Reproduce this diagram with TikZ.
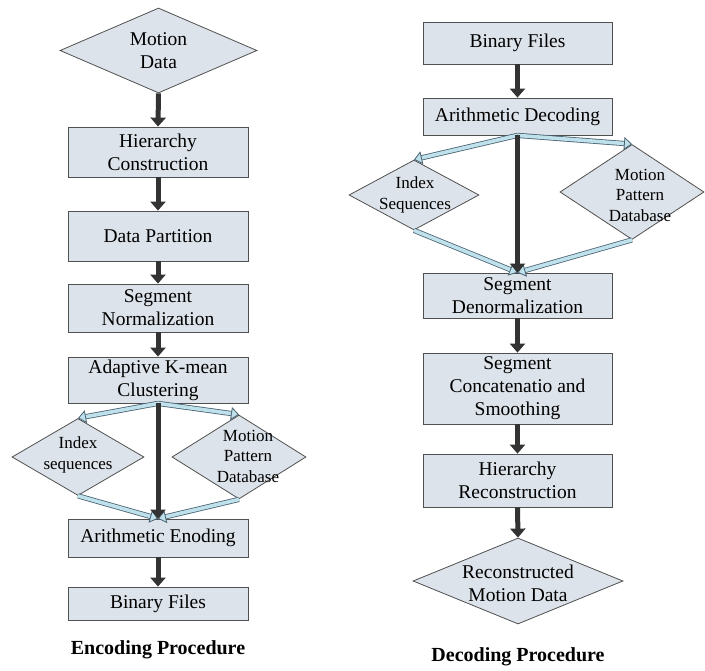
\documentclass[tikz,border=0pt]{standalone}
\usepackage{fontspec}
\setmainfont{Liberation Serif}
\usetikzlibrary{arrows.meta,shapes.geometric}
\definecolor{boxfill}{HTML}{DDE3EA}
\definecolor{boxline}{HTML}{505050}
\definecolor{darkarrow}{HTML}{333333}
\definecolor{lblue}{HTML}{BFE1EC}
\definecolor{bline}{HTML}{4A6272}
\begin{document}
\begin{tikzpicture}[x=1pt,y=-1pt,
  box/.style={draw=boxline, fill=boxfill, line width=0.8pt, inner sep=0pt, align=center,
    font=\fontsize{19.5}{23}\selectfont},
  dia/.style={shape=diamond, draw=boxline, fill=boxfill, line width=0.8pt, inner sep=0pt},
  bigtxt/.style={align=center, inner sep=0pt, font=\fontsize{19.5}{23}\selectfont},
  smalltxt/.style={align=center, inner sep=0pt, font=\fontsize{17}{20.5}\selectfont},
  caption/.style={inner sep=0pt, font=\fontsize{20}{24}\selectfont\bfseries},
  thickarrow/.style={draw=darkarrow, line width=5pt, -{Triangle[length=9pt,width=15pt]}},
  bluearrow/.style={draw=bline, line width=0.8pt, double=lblue, double distance=3.6pt,
    -{Triangle[length=8pt,width=13pt,fill=lblue,line width=0.8pt]}}
]
\useasboundingbox (0,0) rectangle (705,671);

% ---------- Encoding ----------
\node[dia, minimum width=197pt, minimum height=85pt] (md) at (158.5,50.5) {};
\node[bigtxt] (mdt) at (158.5,51) {Motion\\Data};
\node[box, minimum width=180pt, minimum height=50pt] (hc) at (158,152) {Hierarchy\\Construction};
\node[box, minimum width=180pt, minimum height=50pt] (dp) at (158,236) {Data Partition};
\node[box, minimum width=180pt, minimum height=48pt] (sn) at (158,308) {Segment\\Normalization};
\node[box, minimum width=180pt, minimum height=46pt] (ak) at (158,380) {Adaptive K-mean\\Clustering};
\node[dia, minimum width=132pt, minimum height=77pt] (lidx) at (78,457) {};
\node[smalltxt] (lidxt) at (78,455) {Index\\sequences};
\node[dia, minimum width=134pt, minimum height=84pt] (lmpd) at (239,457) {};
\node[smalltxt] (lmpdt) at (248,456) {Motion\\Pattern\\Database};
\node[box, minimum width=180pt, minimum height=38pt] (ae) at (158,538) {Arithmetic Enoding};
\node[box, minimum width=180pt, minimum height=33pt] (bf) at (158,603.5) {Binary Files};
\node[caption] (enc) at (158,650) {Encoding Procedure};

\draw[thickarrow] (md.south) -- (hc.north);
\draw[thickarrow] (hc.south) -- (dp.north);
\draw[thickarrow] (dp.south) -- (sn.north);
\draw[thickarrow] (sn.south) -- (ak.north);
\draw[bluearrow] (ak.south) -- (lidx.north);
\draw[bluearrow] (ak.south) -- (lmpd.north);
\draw[bluearrow] (lidx.south) -- (ae.north);
\draw[bluearrow] (lmpd.south) -- (ae.north);
\draw[thickarrow] (ak.south) -- (ae.north);
\draw[thickarrow] (ae.south) -- (bf.north);

% ---------- Decoding ----------
\node[box, minimum width=189pt, minimum height=42pt] (rbf) at (517.5,43) {Binary Files};
\node[box, minimum width=189pt, minimum height=37pt] (ad) at (517.5,116.5) {Arithmetic Decoding};
\node[dia, minimum width=130pt, minimum height=70pt] (ridx) at (414,195) {};
\node[smalltxt] (ridxt) at (415,195) {Index\\Sequences};
\node[dia, minimum width=144pt, minimum height=95pt] (rmpd) at (632,192) {};
\node[smalltxt] (rmpdt) at (640,195) {Motion\\Pattern\\Database};
\node[box, minimum width=189pt, minimum height=45pt] (sd) at (517.5,295.5) {Segment\\Denormalization};
\node[box, minimum width=189pt, minimum height=71pt] (sc) at (517.5,388.5) {Segment\\Concatenatio and\\Smoothing};
\node[box, minimum width=189pt, minimum height=53pt] (hr) at (517.5,480.5) {Hierarchy\\Reconstruction};
\node[dia, minimum width=210pt, minimum height=86pt] (rmd) at (518,581) {};
\node[bigtxt] (rmdt) at (518,583) {Reconstructed\\Motion Data};
\node[caption] (dec) at (518,657) {Decoding Procedure};

\draw[thickarrow] (rbf.south) -- (ad.north);
\draw[bluearrow] (ad.south) -- (ridx.north);
\draw[bluearrow] (ad.south) -- (rmpd.north);
\draw[bluearrow] (ridx.south) -- (sd.north);
\draw[bluearrow] (rmpd.south) -- (sd.north);
\draw[thickarrow] (ad.south) -- (sd.north);
\draw[thickarrow] (sd.south) -- (sc.north);
\draw[thickarrow] (sc.south) -- (hr.north);
\draw[thickarrow] (hr.south) -- (rmd.north);
\end{tikzpicture}
\end{document}
